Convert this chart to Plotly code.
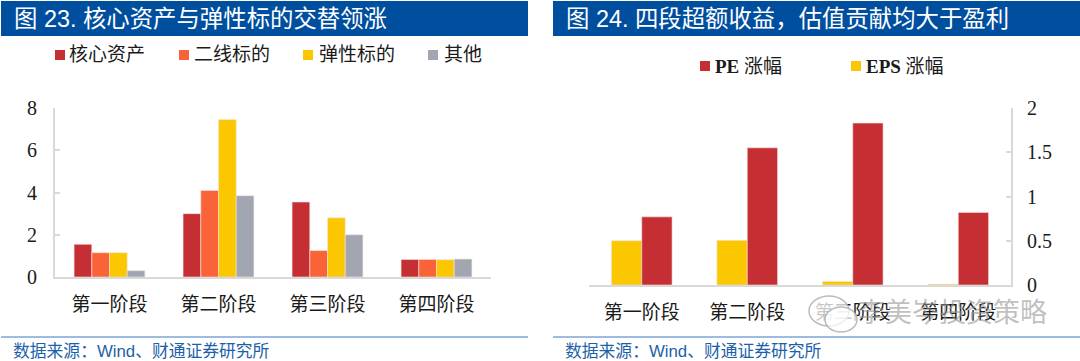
import plotly.graph_objects as go

W, H = 1080, 361
SERIF = "Liberation Serif, Noto Sans CJK SC"
SANS = "Liberation Sans, Noto Sans CJK SC"

categories_left = ["第一阶段", "第二阶段", "第三阶段", "第四阶段"]
core_assets = [1.55, 3.0, 3.55, 0.83]
second_line = [1.15, 4.1, 1.25, 0.83]
elastic = [1.15, 7.45, 2.8, 0.82]
others = [0.3, 3.85, 2.0, 0.85]

categories_right = ["第一阶段", "第二阶段", "第三阶段", "第四阶段"]
eps_growth = [0.5, 0.505, 0.04, 0.01]
pe_growth = [0.77, 1.55, 1.83, 0.82]

title_left = "图 23. 核心资产与弹性标的交替领涨"
title_right = "图 24. 四段超额收益，估值贡献均大于盈利"
source_text = "数据来源：Wind、财通证券研究所"
watermark = "李美岑投资策略"

RED, ORANGE, YELLOW, GREY = "#C52F33", "#F96337", "#FBC700", "#A2A6B1"
BLUE = "#004F9F"
AXIS = "#D9D9D9"
EDGE = dict(color="#F3E6E0", width=0.6)


def px(x):
    return x / W


def py(y):
    return 1 - y / H


fig = go.Figure()
LW = 0.1625
for i, (name, vals, col) in enumerate([("核心资产", core_assets, RED), ("二线标的", second_line, ORANGE),
                                       ("弹性标的", elastic, YELLOW), ("其他", others, GREY)]):
    fig.add_bar(x=categories_left, y=vals, name=name, marker=dict(color=col, line=EDGE),
                xaxis="x", yaxis="y", width=LW, offset=(i - 2) * LW)
RW = 0.2875
for i, (name, vals, col) in enumerate([("EPS 涨幅", eps_growth, YELLOW), ("PE 涨幅", pe_growth, RED)]):
    fig.add_bar(x=categories_right, y=vals, name=name, marker=dict(color=col, line=EDGE),
                xaxis="x2", yaxis="y2", width=RW, offset=(i - 1) * RW)

shapes = []
annotations = []


def rect(x0, y0, x1, y1, color):
    shapes.append(dict(type="rect", xref="paper", yref="paper", x0=px(x0), x1=px(x1), y0=py(y0), y1=py(y1),
                       fillcolor=color, line=dict(width=0), layer="below"))


def label(x, y, text, size, color, family=SERIF, anchor="left"):
    annotations.append(dict(xref="paper", yref="paper", x=px(x), y=py(y), text=text, showarrow=False,
                            xanchor=anchor, yanchor="middle", font=dict(size=size, color=color, family=family),
                            borderpad=0))


# header bars
rect(1, 1, 528, 36, BLUE)
rect(553, 1, 1080, 36, BLUE)
label(13, 19, title_left, 23.4, "white", SANS)
label(565, 19, title_right, 23.4, "white", SANS)

# legends
for sx, tx, col, text in [(55, 68, RED, "核心资产"), (179, 193, ORANGE, "二线标的"),
                          (303, 318, YELLOW, "弹性标的"), (428, 443, GREY, "其他")]:
    rect(sx, 50, sx + 10, 60, col)
    label(tx, 55, text, 19, "#1a1a1a")
for sx, tx, col, text in [(700, 714, RED, "<b>PE</b> 涨幅"), (851, 865, YELLOW, "<b>EPS</b> 涨幅")]:
    rect(sx, 61, sx + 10, 71, col)
    label(tx, 66, text, 19, "#1a1a1a")

# footers
for x0, x1 in [(1, 528), (553, 1080)]:
    shapes.append(dict(type="line", xref="paper", yref="paper", x0=px(x0), x1=px(x1), y0=py(337), y1=py(337),
                       line=dict(color="#3A78C0", width=1)))
label(12, 351, source_text, 16.8, "#1D5FA8", SANS)
label(564, 351, source_text, 16.8, "#1D5FA8", SANS)

# watermark
for x0, y0, x1, y1 in [(809, 296, 849, 326), (825, 307, 857, 332)]:
    shapes.append(dict(type="circle", xref="paper", yref="paper", x0=px(x0), x1=px(x1), y0=py(y1), y1=py(y0),
                       fillcolor="rgba(255,255,255,0.75)", line=dict(color="rgba(170,170,170,0.8)", width=1.5)))
label(857, 313, watermark, 27, "rgba(150,150,150,0.6)", SANS)

common_x = dict(showgrid=False, ticks="", linecolor=AXIS, linewidth=2, tickfont=dict(family=SERIF, size=19, color="#1a1a1a"),
                ticklabelstandoff=9, type="category", fixedrange=True)
common_y = dict(showgrid=False, ticks="inside", ticklen=5, tickcolor=AXIS, tickwidth=1.5, linecolor=AXIS, linewidth=2,
                zeroline=False, tickfont=dict(family="Liberation Serif", size=20, color="#1a1a1a"), fixedrange=True)

fig.update_layout(
    width=W, height=H, margin=dict(l=0, r=0, t=0, b=0, pad=0, autoexpand=False), paper_bgcolor="white", plot_bgcolor="white",
    barmode="overlay", showlegend=False, shapes=shapes, annotations=annotations,
    xaxis=dict(domain=[px(55), px(491)], anchor="y", **common_x),
    yaxis=dict(domain=[py(277), py(108)], anchor="x", range=[0, 8], tickvals=[0, 2, 4, 6, 8], ticklabelstandoff=12, **common_y),
    xaxis2=dict(domain=[px(589), px(1011)], anchor="y2", **common_x),
    yaxis2=dict(domain=[py(285), py(108)], anchor="x2", side="right", range=[0, 2], tickvals=[0, 0.5, 1, 1.5, 2],
                ticktext=["0", "0.5", "1", "1.5", "2"], ticklabelstandoff=10, **common_y),
)
fig.write_html("out.html", config=dict(displayModeBar=False),
               post_script="document.body.style.margin='0';document.documentElement.style.overflow='hidden';")
